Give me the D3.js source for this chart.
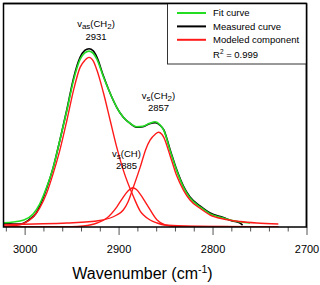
<!DOCTYPE html>
<html><head><meta charset="utf-8">
<script src="https://cdn.jsdelivr.net/npm/d3@7"></script>
<style>html,body{margin:0;padding:0;background:#fff;}svg{display:block;font-family:"Liberation Sans",Arial,sans-serif;}</style>
</head><body>
<svg id="c" width="320" height="285"></svg>
<script>
// ---- data: [wavenumber (cm-1), intensity (a.u.)] ----
const fitCurve = [[3022.5,4.3],[3012,5],[3001,7],[2991,13],[2984,23],[2976.5,40],[2969.5,60],[2962.5,87],[2955,117],[2948,147],[2941,168],[2936,174.5],[2931.5,176.3],[2927,174],[2923,168],[2916,150],[2909,134],[2902,120],[2895,110],[2888,104],[2881,100.5],[2874,101],[2867,104],[2861,105.5],[2856,102.5],[2852,97],[2845,76],[2838,56],[2831,40],[2824,29],[2813,20],[2802.5,13],[2788.5,9],[2779,6.5],[2770,5],[2760,4]];
const measuredCurve = [[3022.5,3.5],[3012,3],[3004.5,3],[2995,7.5],[2988,13.5],[2983.5,22],[2976.5,39],[2969.5,60],[2962.5,87],[2955,118],[2948,149],[2941,170],[2936,177],[2931.5,178.7],[2927,176.5],[2923,170],[2916,151],[2909,134],[2902,120],[2895,110],[2888,104],[2881,100],[2874,100.5],[2867,103.5],[2861,104.5],[2856,102],[2852,97.5],[2845,77],[2838,57],[2831,41],[2824,30],[2813,21],[2802.5,14],[2788.5,9.5],[2779,6],[2772,4.5],[2768,2]];
const compAsCH2 = [[3022.5,1],[3010,1.5],[3001,3.5],[2991,10],[2984,19],[2976.5,34],[2969.5,54],[2962.5,77],[2955,107],[2948,137],[2941,160],[2936,167],[2931.5,170],[2927,166.5],[2923,157],[2916,134],[2909,107],[2902,80],[2895,57],[2884,30],[2877,16],[2873.5,12],[2866.5,7],[2859,4],[2851,2],[2830,1],[2790,0.5],[2730,0.3]];
const compSCH2 = [[3022.5,2.3],[2990,3],[2955,4],[2920,6.5],[2902,12],[2895,17],[2890,25],[2885,38],[2877,60],[2871,78],[2866.5,87],[2861,93],[2857.5,95],[2854,93],[2852,90],[2845,71],[2838,51],[2831,37],[2824,27],[2813,18.5],[2802.5,12],[2788.5,8],[2771,5.5],[2753,4],[2730,3]];
const compSCH = [[3022.5,0.2],[2950,0.3],[2937.5,1],[2923,4],[2912.5,9],[2902,20],[2895,30],[2890,36],[2885,39.3],[2881,37.5],[2877,33],[2869.5,22],[2859,7],[2850.5,2],[2840,0.5],[2730,0.2]];
const majorTicks = [3000, 2900, 2800, 2700];
const minorTicks = [3020,2980,2960,2940,2920,2880,2860,2840,2820,2780,2760,2740,2720];
const legendLabels = ["Fit curve", "Measured curve", "Modeled component"];
const rSquared = "0.999";
const peakLabels = [
  {main:"v", sub:"as", group:"(CH", sub2:"2", wn:"2931"},
  {main:"v", sub:"s", group:"(CH", sub2:"2", wn:"2857"},
  {main:"v", sub:"s", group:"(CH", sub2:"", wn:"2885"}
];

// ---- layout ----
const L = 3.5, R = 306.5, T = 3.5, B = 227;
const x = d3.scaleLinear().domain([3022.5, 2700]).range([L, R]);
const y = d3.scaleLinear().domain([0, 224]).range([B, T]);
const GREEN = "#22dd22", RED = "#ff1a1a", BLACK = "#000";

const svg = d3.select("#c");
const defs = svg.append("defs");
defs.append("clipPath").attr("id","clip").append("rect").attr("x",L).attr("y",T).attr("width",R-L).attr("height",B-T);

const line = d3.line().x(d => x(d[0])).y(d => y(d[1])).curve(d3.curveMonotoneX);
const plot = svg.append("g").attr("clip-path","url(#clip)");
const draw = (data, color, w) => plot.append("path").datum(data).attr("d", line)
  .attr("fill","none").attr("stroke",color).attr("stroke-width",w).attr("stroke-linejoin","round");
draw(measuredCurve, BLACK, 1.6);
draw(fitCurve, GREEN, 1.6);
draw(compAsCH2, RED, 1.4);
draw(compSCH2, RED, 1.4);
draw(compSCH, RED, 1.4);

// axes
const axMajor = svg.append("g").attr("transform",`translate(0,${B})`)
  .call(d3.axisBottom(x).tickValues(majorTicks).tickSize(8).tickPadding(10).tickFormat(d3.format("d")));
axMajor.select(".domain").remove();
axMajor.selectAll("line").attr("stroke","#555");
axMajor.selectAll("text").attr("font-size",11).attr("font-family","Liberation Sans, Arial, sans-serif").attr("fill","#000");
const axMinor = svg.append("g").attr("transform",`translate(0,${B})`)
  .call(d3.axisBottom(x).tickValues(minorTicks).tickSize(4.5).tickFormat(""));
axMinor.select(".domain").remove();
axMinor.selectAll("line").attr("stroke","#555");

// frame
svg.append("rect").attr("x",L).attr("y",T).attr("width",R-L).attr("height",B-T)
  .attr("fill","none").attr("stroke","#000").attr("stroke-width",1.5);

// axis title
const xt = svg.append("text").attr("x",142.5).attr("y",278.5).attr("text-anchor","middle")
  .attr("font-size",16).attr("fill","#000");
xt.append("tspan").text("Wavenumber (cm");
xt.append("tspan").attr("dy",-6).attr("font-size",10.5).text("-1");
xt.append("tspan").attr("dy",6).text(")");

// legend
const lg = svg.append("g");
lg.append("rect").attr("x",167.5).attr("y",T).attr("width",R-167.5).attr("height",64-T)
  .attr("fill","#fff").attr("stroke","#333").attr("stroke-width",1);
svg.append("line").attr("x1",R).attr("x2",R).attr("y1",T).attr("y2",B).attr("stroke","#000").attr("stroke-width",1.5);
svg.append("line").attr("x1",L).attr("x2",R).attr("y1",T).attr("y2",T).attr("stroke","#000").attr("stroke-width",1.5);
const legColors = [GREEN, BLACK, RED];
legendLabels.forEach((lab, i) => {
  const yy = 13 + i * 13.4;
  lg.append("line").attr("x1",177).attr("x2",206).attr("y1",yy).attr("y2",yy)
    .attr("stroke",legColors[i]).attr("stroke-width",2);
  lg.append("text").attr("x",213).attr("y",yy+3.4).attr("font-size",9.5).attr("fill","#000").text(lab);
});
const r2 = lg.append("text").attr("x",213).attr("y",57.5).attr("font-size",9.5).attr("fill","#000");
r2.append("tspan").text("R");
r2.append("tspan").attr("dy",-3.5).attr("font-size",6.5).text("2");
r2.append("tspan").attr("dy",3.5).text(" = " + rSquared);

// peak annotations
const labelPos = [[96, 26.5, 39.5], [158.5, 98.5, 110.8], [126.5, 156.5, 169]];
peakLabels.forEach((p, i) => {
  const [cx, y1, y2] = labelPos[i];
  const t = svg.append("text").attr("x",cx).attr("y",y1).attr("text-anchor","middle").attr("font-size",9.5).attr("fill","#000");
  t.append("tspan").text(p.main);
  t.append("tspan").attr("dy",2).attr("font-size",8).text(p.sub);
  t.append("tspan").attr("dy",-2).text(p.group);
  if (p.sub2) {
    t.append("tspan").attr("dy",2).attr("font-size",8).text(p.sub2);
    t.append("tspan").attr("dy",-2).text(")");
  } else {
    t.append("tspan").text(")");
  }
  svg.append("text").attr("x",cx).attr("y",y2).attr("text-anchor","middle").attr("font-size",9.5).attr("fill","#000").text(p.wn);
});
</script>
</body></html>
